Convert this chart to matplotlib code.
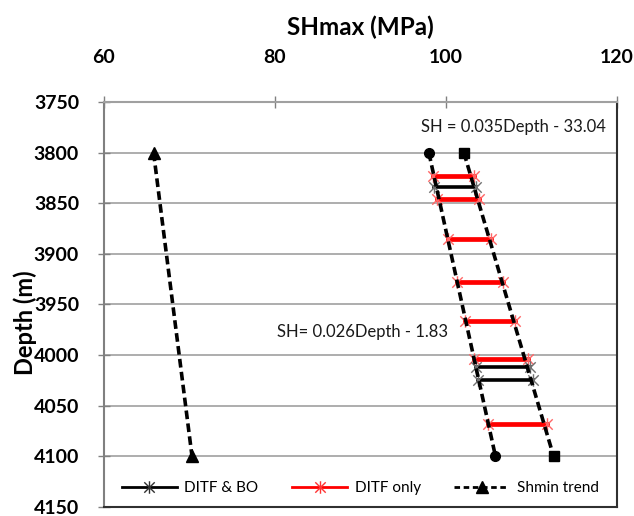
import matplotlib
matplotlib.use("Agg")
import matplotlib.pyplot as plt
from matplotlib.path import Path
from matplotlib.lines import Line2D

plt.rcParams['font.family'] = ['Lato', 'DejaVu Sans']

# Shmin trend (MPa) at depth (m)
shmin_depth = [3800, 4100]
shmin_val = [65.8, 70.3]

# SHmax bounds
low_depth = [3800, 4100]
low_val = [98.0, 105.8]
high_depth = [3800, 4100]
high_val = [102.1, 112.6]

# DITF only intervals
red_depth = [3823, 3846, 3885, 3928, 3966, 4004, 4068]
red_left = [98.5, 98.9, 100.2, 101.3, 102.2, 103.3, 104.9]
red_right = [103.3, 103.9, 105.3, 106.7, 108.1, 109.6, 111.8]

# DITF & BO intervals
blk_depth = [3834, 4012, 4025]
blk_left = [98.6, 103.5, 103.7]
blk_right = [103.5, 109.8, 110.2]

yticks = [3750, 3800, 3850, 3900, 3950, 4000, 4050, 4100, 4150]
xticks = [60, 80, 100, 120]

# asterisk marker: X plus vertical line
star = Path([(-1, -1), (1, 1), (-1, 1), (1, -1), (0, -1.2), (0, 1.2)],
            [Path.MOVETO, Path.LINETO, Path.MOVETO, Path.LINETO, Path.MOVETO, Path.LINETO])

fig = plt.figure(figsize=(6.34, 5.16), dpi=100)
ax = fig.add_axes([0.164, 0.0174, 0.809, 0.785])

dash = (0, (2.4, 1.2))
for d, a, b in zip(red_depth, red_left, red_right):
    ax.plot([a, b], [d, d], color='#FF0000', lw=3.4, marker=star, ms=9,
            mec='#FF6666', mew=1, zorder=3)
for d, a, b in zip(blk_depth, blk_left, blk_right):
    ax.plot([a, b], [d, d], color='black', lw=2.6, marker=star, ms=9,
            mec='#707070', mew=1, zorder=3)

ax.plot(shmin_val, shmin_depth, color='black', lw=2.6, ls=dash, marker='^', ms=9, zorder=4)
ax.plot(low_val, low_depth, color='black', lw=2.6, ls=dash, zorder=4)
ax.plot(low_val, low_depth, color='black', lw=0, marker='o', ms=7, zorder=4)
ax.plot(high_val, high_depth, color='black', lw=2.6, ls=dash, zorder=4)
ax.plot(high_val, high_depth, color='black', lw=0, marker='s', ms=7, zorder=4)

ax.text(97.1, 3775, 'SH = 0.035Depth - 33.04', fontsize=12, color='#1a1a1a', va='center')
ax.text(80.2, 3977, 'SH= 0.026Depth - 1.83', fontsize=12, color='#1a1a1a', va='center')

ax.set_xlim(60, 120)
ax.set_ylim(4150, 3750)
ax.set_xticks(xticks)
ax.set_yticks(yticks)
ax.xaxis.tick_top()
ax.xaxis.set_label_position('top')
ax.tick_params(axis='both', direction='inout', length=8, width=1, color='#808080',
               labelsize=14)
for lab in ax.get_xticklabels() + ax.get_yticklabels():
    lab.set_fontweight('bold')
ax.tick_params(axis='x', pad=22)
ax.tick_params(axis='y', pad=14)
ax.yaxis.grid(True, color='#A0A0A0', lw=1.2)
ax.set_axisbelow(True)
ax.set_xlabel('SHmax (MPa)', fontsize=17.5, fontweight='bold', labelpad=10)
ax.set_ylabel('Depth (m)', fontsize=17, fontweight='bold')
ax.yaxis.set_label_coords(-0.13, 0.454)

ax.spines['left'].set_color('#808080')
ax.spines['top'].set_color('#A0A0A0')
ax.spines['right'].set_color('#303030')
ax.spines['bottom'].set_color('#303030')
for s in ax.spines.values():
    s.set_linewidth(1.5)

handles = [
    Line2D([], [], color='black', lw=2, marker=star, ms=9, mec='#303030', mew=1),
    Line2D([], [], color='#FF0000', lw=2, marker=star, ms=9, mec='#FF3333', mew=1),
    Line2D([], [], color='black', lw=2, ls=(0, (2, 1.3)), marker='^', ms=8),
]
ax.legend(handles, ['DITF & BO', 'DITF only', 'Shmin trend'], loc='lower center',
          bbox_to_anchor=(0.5, -0.005), ncol=3, frameon=False, fontsize=11,
          handlelength=3.6, columnspacing=2.2, handletextpad=0.5)

fig.savefig('out.png', dpi=100)
